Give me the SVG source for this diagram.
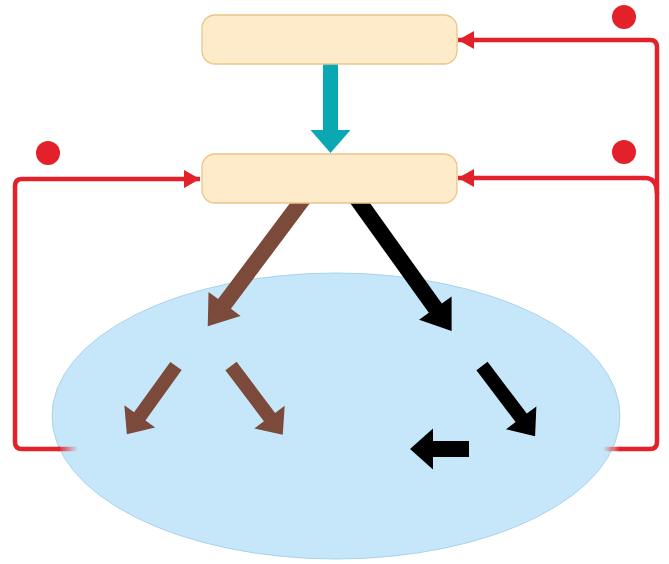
<svg xmlns="http://www.w3.org/2000/svg" width="669" height="564" viewBox="0 0 669 564">
  <style>
    .box { fill: #fdebc9; stroke: #e9c68a; stroke-width: 1.3; }
    .red { fill: none; stroke: #e3212b; stroke-width: 4.5; }
    .dot { fill: #e3212b; }
    .brown { fill: #7b4a3b; }
    .black { fill: #000; }
    .teal { fill: #0aa8b3; }
  </style>
  <defs>
    <marker id="rh" markerUnits="userSpaceOnUse" markerWidth="18" markerHeight="20" viewBox="0 0 18 20" refX="16" refY="10" orient="auto">
      <path d="M0,1 L16,10 L0,19 Z" fill="#e3212b"/>
    </marker>
    <linearGradient id="fadeL" gradientUnits="userSpaceOnUse" x1="58" y1="0" x2="78" y2="0">
      <stop offset="0" stop-color="#e3212b"/>
      <stop offset="1" stop-color="#e3212b" stop-opacity="0"/>
    </linearGradient>
    <linearGradient id="fadeR" gradientUnits="userSpaceOnUse" x1="620" y1="0" x2="603" y2="0">
      <stop offset="0" stop-color="#e3212b"/>
      <stop offset="1" stop-color="#e3212b" stop-opacity="0"/>
    </linearGradient>
  </defs>

  <g id="cell">
    <ellipse cx="336" cy="416" rx="284" ry="143" fill="#c6e7f9" stroke="#a9d3ea" stroke-width="1"/>
  </g>

  <g id="connectors">
    <polygon class="teal" transform="translate(330.5,60) rotate(90)" points="0,-7.5 70,-7.5 70,-20 93,0 70,20 70,7.5 0,7.5"/>
    <polygon class="brown" transform="translate(306,195) rotate(126.8)" points="0,-8 136,-8 136,-20 164,0 136,20 136,8 0,8"/>
    <polygon class="black" transform="translate(355,196) rotate(54.4)" points="0,-8 138,-8 138,-20 166,0 138,20 138,8 0,8"/>
    <polygon class="brown" transform="translate(176,366) rotate(125.8)" points="0,-7 62,-7 62,-19 84,0 62,19 62,7 0,7"/>
    <polygon class="brown" transform="translate(231,366) rotate(53)" points="0,-7 64,-7 64,-19 86,0 64,19 64,7 0,7"/>
    <polygon class="black" transform="translate(482,366) rotate(52.9)" points="0,-7 65,-7 65,-19 88,0 65,19 65,7 0,7"/>
    <polygon class="black" transform="translate(469,449) rotate(180)" points="0,-8 36,-8 36,-20.5 59,0 36,20.5 36,8 0,8"/>

    <path class="red" d="M60 449 H22 Q15 449 15 442 V186 Q15 179 22 179 H200" marker-end="url(#rh)"/>
    <line x1="58" y1="449" x2="78" y2="449" stroke="url(#fadeL)" stroke-width="4.5"/>
    <path class="red" d="M620 449 H650 Q657 449 657 442 V47 Q657 40 650 40 H458" marker-end="url(#rh)"/>
    <line x1="603" y1="449" x2="621" y2="449" stroke="url(#fadeR)" stroke-width="4.5"/>
    <path class="red" d="M657 194 Q657 178 645 178 H458" marker-end="url(#rh)"/>

    <circle class="dot" cx="48" cy="153" r="12"/>
    <circle class="dot" cx="624" cy="17" r="12"/>
    <circle class="dot" cx="624" cy="152" r="12"/>
  </g>

  <g id="box-top">
    <rect class="box" x="202" y="15" width="255" height="49" rx="13"/>
  </g>
  <g id="box-middle">
    <rect class="box" x="202" y="154" width="255" height="49" rx="13"/>
  </g>
</svg>
